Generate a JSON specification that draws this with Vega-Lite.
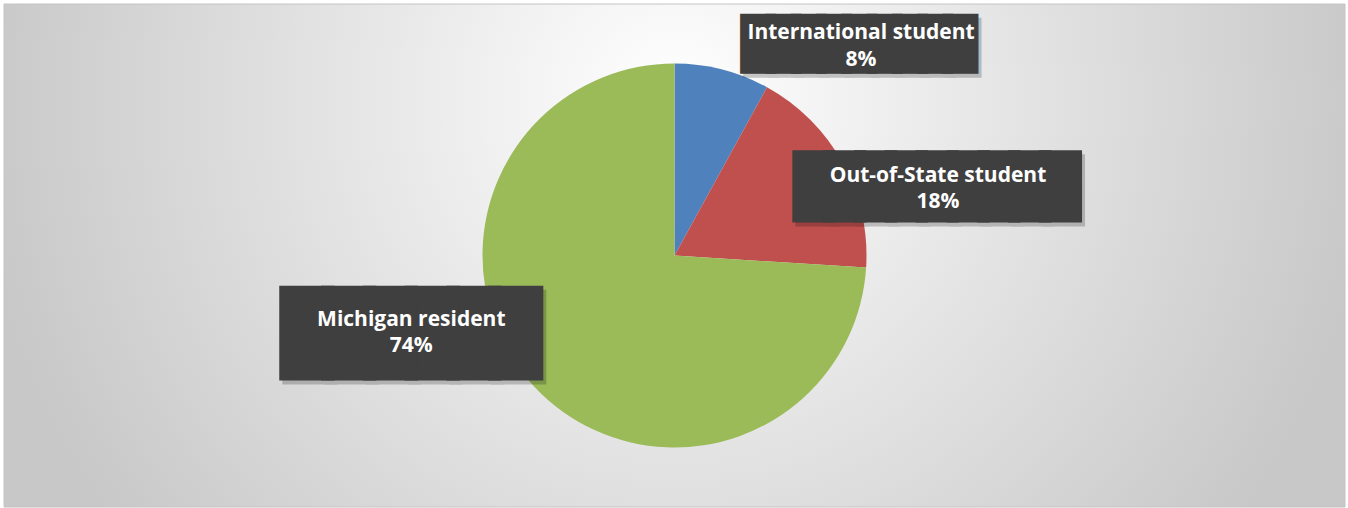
{
  "$schema": "https://vega.github.io/schema/vega-lite/v6.json",
  "width": 1341,
  "height": 503,
  "autosize": {"type": "none"},
  "padding": {"left": 4, "top": 4, "right": 3, "bottom": 1},
  "background": "#ffffff",
  "config": {"view": {"stroke": null}},
  "data": {
    "values": [
      {"category": "International student", "value": 8, "label": "International student\n8%"},
      {"category": "Out-of-State student", "value": 18, "label": "Out-of-State student\n18%"},
      {"category": "Michigan resident", "value": 74, "label": "Michigan resident\n74%"}
    ]
  },
  "layer": [
    {
      "data": {"values": [{}]},
      "mark": {
        "type": "rect",
        "stroke": "#c4c4c4",
        "strokeWidth": 1,
        "fill": {
          "gradient": "radial",
          "x1": 0.5, "y1": 0.384, "r1": 0,
          "x2": 0.5, "y2": 0.384, "r2": 0.522,
          "stops": [
            {"offset": 0, "color": "#ffffff"},
            {"offset": 1, "color": "#c8c8c8"}
          ]
        }
      },
      "encoding": {}
    },
    {
      "mark": {"type": "arc", "radius": 192},
      "encoding": {
        "theta": {"field": "value", "type": "quantitative", "stack": true},
        "order": {"field": "value", "sort": "ascending"},
        "color": {
          "field": "category",
          "type": "nominal",
          "scale": {
            "domain": ["International student", "Out-of-State student", "Michigan resident"],
            "range": ["#4f81bd", "#c0504d", "#9bbb59"]
          },
          "legend": null
        }
      }
    },
    {
      "mark": {"type": "text", "radius": 200, "dx": 137.8, "dy": -12.4, "font": "DejaVu Sans Mono", "fontSize": 42, "color": "#000000", "opacity": 0.2, "stroke": "#000000", "strokeWidth": 10, "strokeJoin": "miter", "align": "center", "baseline": "middle"},
      "encoding": {
        "theta": {"field": "value", "type": "quantitative", "stack": true},
        "order": {"field": "value", "sort": "ascending"},
        "text": {"condition": {"test": "datum.category === 'International student'", "value": "█████████"}, "value": ""}
      }
    },
    {
      "mark": {"type": "text", "radius": 200, "dx": 134.8, "dy": -16.4, "font": "DejaVu Sans Mono", "fontSize": 42, "color": "#3f3f3f", "stroke": "#3f3f3f", "strokeWidth": 10, "strokeJoin": "miter", "align": "center", "baseline": "middle"},
      "encoding": {
        "theta": {"field": "value", "type": "quantitative", "stack": true},
        "order": {"field": "value", "sort": "ascending"},
        "text": {"condition": {"test": "datum.category === 'International student'", "value": "█████████"}, "value": ""}
      }
    },
    {
      "mark": {"type": "text", "radius": 200, "dx": 90.7, "dy": 33.8, "font": "DejaVu Sans Mono", "fontSize": 51.2, "color": "#000000", "opacity": 0.2, "stroke": "#000000", "strokeWidth": 11.4, "strokeJoin": "miter", "align": "center", "baseline": "middle"},
      "encoding": {
        "theta": {"field": "value", "type": "quantitative", "stack": true},
        "order": {"field": "value", "sort": "ascending"},
        "text": {"condition": {"test": "datum.category === 'Out-of-State student'", "value": "█████████"}, "value": ""}
      }
    },
    {
      "mark": {"type": "text", "radius": 200, "dx": 87.7, "dy": 29.8, "font": "DejaVu Sans Mono", "fontSize": 51.2, "color": "#3f3f3f", "stroke": "#3f3f3f", "strokeWidth": 11.4, "strokeJoin": "miter", "align": "center", "baseline": "middle"},
      "encoding": {
        "theta": {"field": "value", "type": "quantitative", "stack": true},
        "order": {"field": "value", "sort": "ascending"},
        "text": {"condition": {"test": "datum.category === 'Out-of-State student'", "value": "█████████"}, "value": ""}
      }
    },
    {
      "mark": {"type": "text", "radius": 200, "dx": -114.2, "dy": -52.7, "font": "DejaVu Sans Mono", "fontSize": 69.4, "color": "#000000", "opacity": 0.2, "stroke": "#000000", "strokeWidth": 12.2, "strokeJoin": "miter", "align": "center", "baseline": "middle"},
      "encoding": {
        "theta": {"field": "value", "type": "quantitative", "stack": true},
        "order": {"field": "value", "sort": "ascending"},
        "text": {"condition": {"test": "datum.category === 'Michigan resident'", "value": "██████"}, "value": ""}
      }
    },
    {
      "mark": {"type": "text", "radius": 200, "dx": -117.2, "dy": -56.7, "font": "DejaVu Sans Mono", "fontSize": 69.4, "color": "#3f3f3f", "stroke": "#3f3f3f", "strokeWidth": 12.2, "strokeJoin": "miter", "align": "center", "baseline": "middle"},
      "encoding": {
        "theta": {"field": "value", "type": "quantitative", "stack": true},
        "order": {"field": "value", "sort": "ascending"},
        "text": {"condition": {"test": "datum.category === 'Michigan resident'", "value": "██████"}, "value": ""}
      }
    },
    {
      "mark": {"type": "text", "radius": 200, "dx": 136.8, "dy": -29.1, "font": "Open Sans", "fontWeight": "bold", "fontSize": 21, "color": "#ffffff", "align": "center", "baseline": "middle", "lineHeight": 27, "lineBreak": "\n"},
      "encoding": {
        "theta": {"field": "value", "type": "quantitative", "stack": true},
        "order": {"field": "value", "sort": "ascending"},
        "text": {"condition": {"test": "datum.category === 'International student'", "field": "label"}, "value": ""}
      }
    },
    {
      "mark": {"type": "text", "radius": 200, "dx": 88.2, "dy": 16.6, "font": "Open Sans", "fontWeight": "bold", "fontSize": 21, "color": "#ffffff", "align": "center", "baseline": "middle", "lineHeight": 26, "lineBreak": "\n"},
      "encoding": {
        "theta": {"field": "value", "type": "quantitative", "stack": true},
        "order": {"field": "value", "sort": "ascending"},
        "text": {"condition": {"test": "datum.category === 'Out-of-State student'", "field": "label"}, "value": ""}
      }
    },
    {
      "mark": {"type": "text", "radius": 200, "dx": -117.4, "dy": -72, "font": "Open Sans", "fontWeight": "bold", "fontSize": 21, "color": "#ffffff", "align": "center", "baseline": "middle", "lineHeight": 26, "lineBreak": "\n"},
      "encoding": {
        "theta": {"field": "value", "type": "quantitative", "stack": true},
        "order": {"field": "value", "sort": "ascending"},
        "text": {"condition": {"test": "datum.category === 'Michigan resident'", "field": "label"}, "value": ""}
      }
    }
  ]
}
